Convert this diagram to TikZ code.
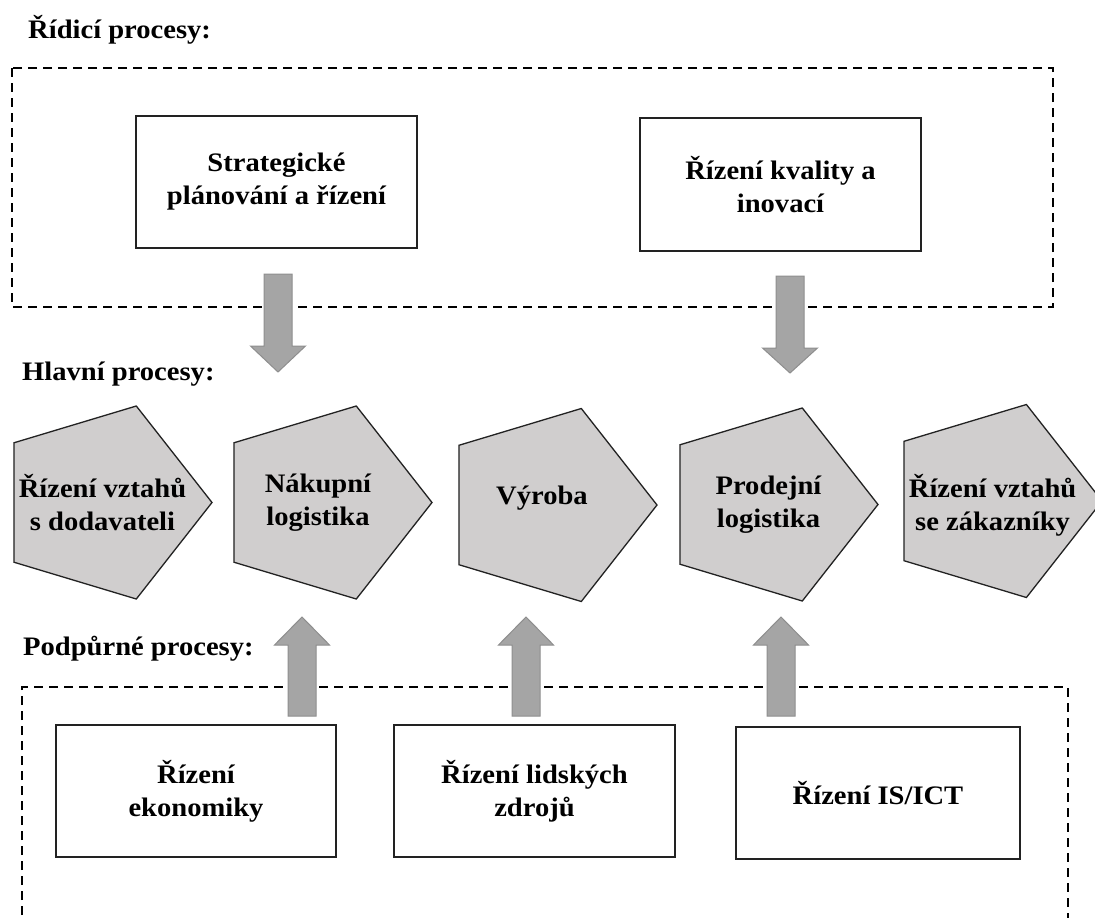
\documentclass[tikz,border=0pt]{standalone}
\usepackage{fontspec}
\setmainfont{Liberation Serif}[FakeStretch=1.07]
\definecolor{pentfill}{HTML}{D0CECE}
\definecolor{arrfill}{HTML}{A5A5A5}
\definecolor{arrline}{HTML}{8E8E8E}
\definecolor{edge}{HTML}{222222}
\tikzset{
  lbl/.style={font=\fontsize{26.7}{33}\selectfont\bfseries, align=center, inner sep=0pt, text=black},
  ttl/.style={font=\fontsize{26.7}{33}\selectfont\bfseries, inner sep=0pt, anchor=base west},
  dashframe/.style={draw=black, line width=1.2pt, dash pattern=on 9pt off 6pt},
  procbox/.style={lbl, draw=edge, line width=1.6pt, fill=white},
  pent/.style={draw=edge, line width=1.3pt, fill=pentfill},
  blockarr/.style={fill=arrfill, draw=arrline, line width=1pt},
}
\newcommand\pentat[2]{%
  \draw[pent, shift={(#1,#2)}] (109.5,0) -- (33.8,-96.5) -- (-88.6,-59.7) -- (-88.6,59.7) -- (33.8,96.5) -- cycle;}
\newcommand\blockarrow[4]{% cx, start y, head base y, tip y
  \draw[blockarr] ({#1-14},#2) -- ({#1+14},#2) -- ({#1+14},#3) -- ({#1+27.5},#3) -- (#1,#4) -- ({#1-27.5},#3) -- ({#1-14},#3) -- cycle;}
\begin{document}
\begin{tikzpicture}[x=1pt,y=-1pt]
\useasboundingbox (0,0) rectangle (1095,918);
\clip (0,0) rectangle (1095,918);
\fill[white] (0,0) rectangle (1095,918);

% titles
\node[ttl] (tr) at (28,38) {Řídicí procesy:};
\node[ttl] (th) at (22,380) {Hlavní procesy:};
\node[ttl] (tp) at (23,655) {Podpůrné procesy:};

% top frame
\draw[dashframe] (12,68) rectangle (1053,307);
\node[procbox, minimum width=281pt, minimum height=132pt] (strat) at (276.5,182) {Strategické\\plánování a řízení};
\node[procbox, minimum width=281pt, minimum height=133pt] (kval) at (780.5,184.5) {Řízení kvality a\\inovací};

% down arrows
\blockarrow{278}{274}{346}{372}
\blockarrow{790}{276}{348}{373}

% main processes
\pentat{102.5}{502.5}
\pentat{322.5}{502.5}
\pentat{547.5}{505}
\pentat{768.5}{504.5}
\pentat{992.6}{501}
\node[lbl] (p1) at (102.5,502.5) {Řízení vztahů\\s dodavateli};
\node[lbl] (p2) at (318,502.5) {Nákupní\\logistika};
\node[lbl] (p3) at (542,498) {Výroba};
\node[lbl] (p4) at (768.5,504.5) {Prodejní\\logistika};
\node[lbl] (p5) at (992.6,505) {Řízení vztahů\\se zákazníky};

% bottom frame
\draw[dashframe] (22,930) -- (22,687) -- (1068,687) -- (1068,930);

% up arrows
\blockarrow{302}{716}{645}{617}
\blockarrow{526}{716}{645}{617}
\blockarrow{781}{716}{645}{617}

% support boxes
\node[procbox, minimum width=280pt, minimum height=132pt] (eko) at (196,791) {Řízení\\ekonomiky};
\node[procbox, minimum width=281pt, minimum height=132pt] (lz) at (534.5,791) {Řízení lidských\\zdrojů};
\node[procbox, minimum width=284pt, minimum height=132pt] (ict) at (878,793) {Řízení IS/ICT};
\end{tikzpicture}
\end{document}
